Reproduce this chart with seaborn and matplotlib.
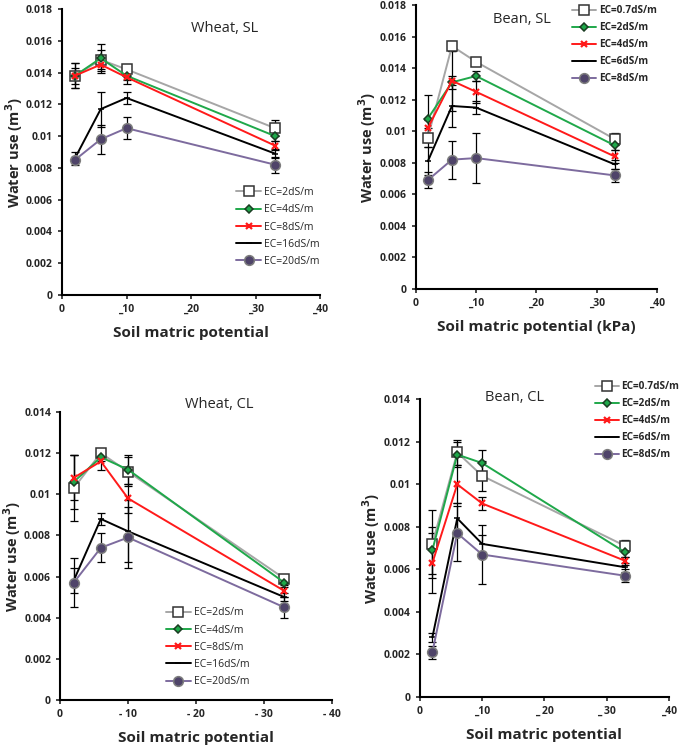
import numpy as np
import pandas as pd
import matplotlib
matplotlib.use("Agg")
import matplotlib.pyplot as plt
import seaborn as sns

sns.set_style("ticks")
plt.rcParams['font.family'] = ['Open Sans', 'DejaVu Sans']

# soil matric potential (kPa, plotted as positive)
x = [2, 6, 10, 33]

# Wheat, SL
wsl_labels = ["EC=2dS/m", "EC=4dS/m", "EC=8dS/m", "EC=16dS/m", "EC=20dS/m"]
wsl_y = [[0.0138, 0.0148, 0.0142, 0.0105],
         [0.0138, 0.0149, 0.0138, 0.0100],
         [0.0138, 0.0145, 0.0137, 0.0094],
         [0.0086, 0.0117, 0.0124, 0.0089],
         [0.0085, 0.0098, 0.0105, 0.0082]]
wsl_err = [[0.0008, 0.0006, 0.0002, 0.0005],
           [0.0008, 0.0009, 0.0003, 0.0003],
           [0.0005, 0.0004, 0.0004, 0.0003],
           [0.0004, 0.0011, 0.0004, 0.0003],
           [0.0002, 0.0009, 0.0007, 0.0005]]

# Bean, SL
bsl_labels = ["EC=0.7dS/m", "EC=2dS/m", "EC=4dS/m", "EC=6dS/m", "EC=8dS/m"]
bsl_y = [[0.0096, 0.0154, 0.0144, 0.0095],
         [0.0108, 0.0131, 0.0135, 0.0091],
         [0.0102, 0.0132, 0.0125, 0.0084],
         [0.0081, 0.0116, 0.0115, 0.0079],
         [0.0069, 0.0082, 0.0083, 0.0072]]
bsl_err = [[0.0006, 0.0003, 0.0002, 0.0004],
           [0.0015, 0.0004, 0.0003, 0.0003],
           [0.0005, 0.0019, 0.0007, 0.0004],
           [0.0009, 0.0013, 0.0004, 0.0003],
           [0.0005, 0.0012, 0.0016, 0.0004]]

# Wheat, CL
wcl_labels = ["EC=2dS/m", "EC=4dS/m", "EC=8dS/m", "EC=16dS/m", "EC=20dS/m"]
wcl_y = [[0.0103, 0.0120, 0.0111, 0.0059],
         [0.0106, 0.0118, 0.0112, 0.0057],
         [0.0108, 0.0116, 0.0098, 0.0053],
         [0.0058, 0.0088, 0.0082, 0.0050],
         [0.0057, 0.0074, 0.0079, 0.0045]]
wcl_err = [[0.0016, 0.0002, 0.0007, 0.0002],
           [0.0013, 0.0002, 0.0007, 0.0002],
           [0.0011, 0.0004, 0.0007, 0.0003],
           [0.0006, 0.0003, 0.0015, 0.0002],
           [0.0012, 0.0007, 0.0015, 0.0005]]

# Bean, CL
bcl_labels = ["EC=0.7dS/m", "EC=2dS/m", "EC=4dS/m", "EC=6dS/m", "EC=8dS/m"]
bcl_y = [[0.0072, 0.0115, 0.0104, 0.0071],
         [0.0069, 0.0114, 0.0110, 0.0068],
         [0.0063, 0.0100, 0.0091, 0.0064],
         [0.0028, 0.0084, 0.0072, 0.0061],
         [0.0021, 0.0077, 0.0067, 0.0057]]
bcl_err = [[0.0016, 0.0006, 0.0007, 0.0003],
           [0.0011, 0.0006, 0.0006, 0.0002],
           [0.0014, 0.0009, 0.0003, 0.0002],
           [0.0002, 0.0007, 0.0004, 0.0002],
           [0.0003, 0.0013, 0.0014, 0.0003]]

line_cols = ["#a6a6a6", "#1fa84a", "#ff1a1a", "#000000", "#7d6b9e"]
mk = ["s", "D", "x", "_", "o"]
mk_face = ["white", "#1fa84a", "#ff1a1a", "black", "#4f4469"]
mk_edge = ["#333333", "#1a3d22", "#ff1a1a", "black", "#7d7d7d"]
mk_size = [6.5, 4, 5, 4, 7]


def panel(ax, ys, errs, labels, ymax, title, title_xy, xticklab, xlabel,
          leg_anchor, leg_bold):
    for i in range(5):
        df = pd.DataFrame({"x": x, "y": ys[i]})
        ax.errorbar(x, ys[i], yerr=errs[i], fmt="none", ecolor="black",
                    elinewidth=0.9, capsize=3, capthick=0.9, zorder=2)
        sns.lineplot(data=df, x="x", y="y", ax=ax, color=line_cols[i],
                     marker=mk[i], markersize=mk_size[i],
                     markerfacecolor=mk_face[i], markeredgecolor=mk_edge[i],
                     markeredgewidth=1.1 if mk[i] != "x" else 1.6,
                     linewidth=1.4, label=labels[i], zorder=3)
    ax.set_xlim(0, 40)
    ax.set_ylim(0, ymax)
    ax.set_xticks([0, 10, 20, 30, 40])
    ax.set_xticklabels(xticklab)
    yt = np.arange(0, ymax + 1e-9, 0.002)
    ax.set_yticks(yt)
    ax.set_yticklabels([f"{v:g}" if v > 0 else "0" for v in np.round(yt, 3)])
    for lab in ax.get_xticklabels() + ax.get_yticklabels():
        lab.set_fontweight("bold")
        lab.set_fontsize(7.5)
    ax.tick_params(direction="out", length=3, width=1.2)
    sns.despine(ax=ax)
    for s in ["left", "bottom"]:
        ax.spines[s].set_linewidth(1.5)
        ax.spines[s].set_color("black")
    ax.set_xlabel(xlabel, fontsize=11, fontweight="bold", labelpad=8)
    ax.set_ylabel("Water use (m$^{\\mathbf{3}}$)", fontsize=10.5, fontweight="bold",
                  labelpad=1)
    ax.text(title_xy[0], title_xy[1], title, transform=ax.transAxes,
            fontsize=10.5, ha="center", va="center")
    ax.legend(loc="upper left", bbox_to_anchor=leg_anchor,
              bbox_transform=fig.transFigure, frameon=False,
              handlelength=2.4, labelspacing=0.6, handletextpad=0.3,
              borderaxespad=0, borderpad=0,
              prop={"size": 7.2 if leg_bold else 7.5,
                    "weight": "bold" if leg_bold else "normal"})


fig = plt.figure(figsize=(6.85, 7.48), dpi=100)
ax1 = fig.add_axes([0.0905, 0.6056, 0.377, 0.3824])
ax2 = fig.add_axes([0.607, 0.6136, 0.352, 0.3797])
ax3 = fig.add_axes([0.0877, 0.0642, 0.397, 0.385])
ax4 = fig.add_axes([0.613, 0.0682, 0.3635, 0.398])

top_ticks = ["0", "_10", "_20", "_30", "_40"]
panel(ax1, wsl_y, wsl_err, wsl_labels, 0.018, "Wheat, SL", (0.63, 0.93),
      top_ticks, "Soil matric potential", (0.345, 0.75), False)
panel(ax2, bsl_y, bsl_err, bsl_labels, 0.018, "Bean, SL", (0.44, 0.95),
      top_ticks, "Soil matric potential (kPa)", (0.835, 0.993), True)
panel(ax3, wcl_y, wcl_err, wcl_labels, 0.014, "Wheat, CL", (0.584, 1.025),
      ["0", "- 10", "- 20", "- 30", "- 40"], "Soil matric potential",
      (0.242, 0.188), False)
panel(ax4, bcl_y, bcl_err, bcl_labels, 0.014, "Bean, CL", (0.38, 1.005),
      ["0", "_10", "_ 20", "_ 30", "_40"], "Soil matric potential",
      (0.868, 0.49), True)

fig.savefig("out.png", dpi=100)
